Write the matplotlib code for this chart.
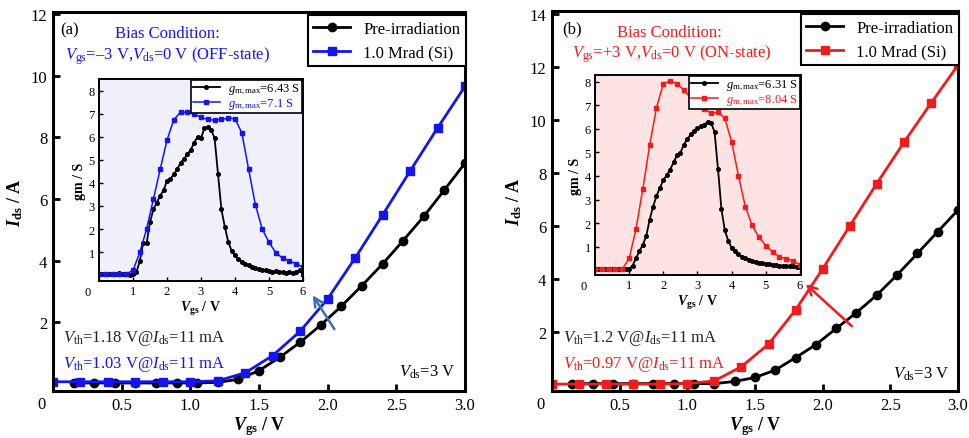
import numpy as np
import matplotlib
matplotlib.use('Agg')
from matplotlib import pyplot as plt

plt.rcParams['font.family'] = 'Liberation Serif'
plt.rcParams['mathtext.fontset'] = 'custom'
plt.rcParams['mathtext.rm'] = 'Liberation Serif'
plt.rcParams['mathtext.it'] = 'Liberation Serif:italic'
plt.rcParams['mathtext.bf'] = 'Liberation Serif:bold'
plt.rcParams['mathtext.bfit'] = 'Liberation Serif:italic:bold'

# ---- main transfer curves (Ids vs Vgs, Vds = 3 V) ----
vgs_pre = [0.15, 0.30, 0.45, 0.60, 0.75, 0.90, 1.05, 1.20, 1.35, 1.50, 1.65, 1.80,
           1.95, 2.10, 2.25, 2.40, 2.55, 2.70, 2.85, 3.00]
vgs_irr = [0.0, 0.2, 0.4, 0.6, 0.8, 1.0, 1.2, 1.4, 1.6, 1.8, 2.0, 2.2, 2.4, 2.6, 2.8, 3.0]

ids_a_pre = [0.03, 0.03, 0.03, 0.03, 0.03, 0.03, 0.03, 0.05, 0.15, 0.43, 0.86, 1.35,
             1.91, 2.52, 3.19, 3.89, 4.65, 5.43, 6.29, 7.16]
ids_a_irr = [0.07, 0.07, 0.07, 0.07, 0.07, 0.07, 0.1, 0.36, 0.92, 1.71, 2.76, 4.08,
             5.48, 6.9, 8.3, 9.65]

ids_b_pre = [0.05, 0.05, 0.05, 0.05, 0.05, 0.05, 0.05, 0.05, 0.13, 0.28, 0.56, 1.03,
             1.52, 2.13, 2.73, 3.39, 4.15, 4.96, 5.78, 6.6]
ids_b_irr = [0.03, 0.03, 0.03, 0.03, 0.03, 0.05, 0.15, 0.69, 1.54, 2.83, 4.38, 6.0,
             7.6, 9.15, 10.63, 12.07]

# ---- inset transconductance curves ----
vg_in_pre = np.round(np.arange(0, 6.01, 0.1), 2)
vg_in_irr = np.round(np.arange(0, 6.01, 0.2), 2)

gm_a_pre = [0.05, 0.04, 0.05, 0.03, 0.06, 0.04, 0.08, 0.03, 0.06, 0.02, 0.03, 0.12,
            0.6, 1.4, 1.38, 2.3, 2.85, 3.15, 3.45, 3.68, 4.1, 4.18, 4.38, 4.6, 4.88,
            5.05, 5.25, 5.45, 5.75, 6.02, 5.95, 6.38, 6.43, 6.3, 5.95, 4.4, 2.85, 2.1,
            1.45, 1.05, 0.85, 0.7, 0.58, 0.5, 0.42, 0.36, 0.3, 0.27, 0.23, 0.2, 0.18,
            0.15, 0.16, 0.13, 0.12, 0.1, 0.11, 0.08, 0.15, 0.2, 0.02]
gm_a_irr = [0.05, 0.05, 0.05, 0.03, 0.05, 0.2, 0.98, 2.0, 3.3, 4.6, 5.86, 6.75, 7.08,
            7.07, 7.0, 6.85, 6.76, 6.73, 6.76, 6.82, 6.8, 6.18, 4.6, 3.05, 2.0, 1.42,
            0.97, 0.73, 0.62, 0.48, 0.35]

gm_b_pre = [0.05, 0.07, 0.04, 0.06, 0.05, 0.07, 0.04, 0.06, 0.05, 0.04, 0.06, 0.2,
            0.5, 0.82, 1.08, 1.45, 2.15, 2.7, 3.15, 3.5, 3.82, 4.03, 4.27, 4.58, 4.88,
            4.98, 5.33, 5.55, 5.76, 5.9, 6.02, 6.1, 6.18, 6.3, 6.25, 5.86, 4.3, 2.6,
            1.7, 1.25, 0.95, 0.8, 0.67, 0.58, 0.51, 0.45, 0.39, 0.36, 0.33, 0.31, 0.28,
            0.26, 0.24, 0.22, 0.2, 0.2, 0.18, 0.19, 0.2, 0.16, 0.13]
gm_b_irr = [0.06, 0.05, 0.05, 0.04, 0.05, 0.5, 1.75, 3.45, 5.3, 6.9, 7.9, 8.04, 7.9,
            7.65, 7.3, 7.0, 6.85, 6.65, 6.7, 6.45, 5.45, 4.0, 2.7, 1.9, 1.4, 1.05,
            0.78, 0.57, 0.48, 0.4, 0.22]

BLUE = '#1414ee'
RED = '#f01c1c'
W, H = 970, 439


def px_axes(l, t, r, b):
    return [l / W, 1 - b / H, (r - l) / W, (b - t) / H]


def corner_zero(ax, size):
    # origin-style "0" sitting at the lower-left corner
    ax.annotate('0', xy=(0, 0), xycoords='axes fraction', xytext=(-11, -5),
                textcoords='offset pixels', ha='center', va='top', fontsize=size)


def main_panel(ax, ids_pre, ids_irr, col, ymax, yticks):
    ax.plot(vgs_pre, ids_pre, '-o', color='black', lw=2, ms=6, label='Pre-irradiation')
    ax.plot(vgs_irr, ids_irr, '-s', color=col, lw=2, ms=6, label='1.0 Mrad (Si)')
    ax.set_xlim(0, 3.0)
    ax.set_ylim(-0.23, ymax)
    ax.set_xticks([0, 0.5, 1.0, 1.5, 2.0, 2.5, 3.0])
    ax.set_xticklabels(['', '0.5', '1.0', '1.5', '2.0', '2.5', '3.0'])
    ax.set_yticks(yticks)
    ax.tick_params(direction='in', width=2, length=5, labelsize=12, pad=4)
    for s in ax.spines.values():
        s.set_linewidth(2.2)
    corner_zero(ax, 12)
    ax.set_xlabel(r'$\mathbfit{V}_{\mathbf{gs}}$ / V', fontsize=13, fontweight='bold', labelpad=1)
    ax.set_ylabel(r'$\mathbfit{I}_{\mathbf{ds}}$ / A', fontsize=13, fontweight='bold', labelpad=4)
    leg = ax.legend(loc='upper right', bbox_to_anchor=(1.003, 0.992), borderaxespad=0,
                    fontsize=12, numpoints=1, handlelength=2.2, fancybox=False,
                    framealpha=1, edgecolor='black', borderpad=0.35, labelspacing=0.45)
    leg.get_frame().set_linewidth(1.5)


def inset_panel(ax, gm_pre, gm_irr, col, bg, labels, xmax, ylim):
    ax.set_facecolor(bg)
    ax.plot(vg_in_pre, gm_pre, '-o', color='black', lw=1.3, ms=2.6, label=labels[0])
    ax.plot(vg_in_irr, gm_irr, '-s', color=col, lw=1.1, ms=2.4, label=labels[1])
    ax.set_xlim(0, xmax)
    ax.set_ylim(*ylim)
    ax.set_xticks([0, 1, 2, 3, 4, 5, 6])
    ax.set_xticklabels(['', '1', '2', '3', '4', '5', '6'])
    ax.set_yticks([1, 2, 3, 4, 5, 6, 7, 8])
    ax.tick_params(direction='in', width=1, length=3, labelsize=9, pad=3)
    for s in ax.spines.values():
        s.set_linewidth(1.4)
    corner_zero(ax, 9)
    ax.set_xlabel(r'$\mathbfit{V}_{\mathbf{gs}}$ / V', fontsize=10, fontweight='bold', labelpad=1)
    ax.set_ylabel('gm / S', fontsize=10, fontweight='bold', labelpad=2)
    leg = ax.legend(loc='upper right', bbox_to_anchor=(1.0, 1.0), borderaxespad=0.1,
                    fontsize=9, numpoints=1, handlelength=2.2, fancybox=False,
                    framealpha=1, edgecolor='black', borderpad=0.15, labelspacing=0.05,
                    handletextpad=0.6)
    leg.get_frame().set_linewidth(1.2)
    leg.get_texts()[1].set_color(col)


fig = plt.figure(figsize=(9.7, 4.39), dpi=100)

# ---------- (a) OFF-state ----------
ax1 = fig.add_axes(px_axes(53, 13, 465, 392))
main_panel(ax1, ids_a_pre, ids_a_irr, BLUE, 12.06, [2, 4, 6, 8, 10, 12])
ax1.text(0.017, 0.955, '(a)', transform=ax1.transAxes, fontsize=12, va='center')
ax1.text(0.277, 0.945, 'Bias Condition:', transform=ax1.transAxes, fontsize=12,
         color=BLUE, ha='center', va='center')
ax1.text(0.029, 0.887, r'$V_{\mathrm{gs}}$=–3 V,$V_{\mathrm{ds}}$=0 V (OFF-state)',
         transform=ax1.transAxes, fontsize=12, color=BLUE, va='center')
ax1.text(0.024, 0.132, r'$V_{\mathrm{th}}$=1.18 V@$I_{\mathrm{ds}}$=11 mA',
         transform=ax1.transAxes, fontsize=12, color='#222222', va='baseline')
ax1.text(0.024, 0.063, r'$V_{\mathrm{th}}$=1.03 V@$I_{\mathrm{ds}}$=11 mA',
         transform=ax1.transAxes, fontsize=12, color=BLUE, va='baseline')
ax1.text(0.976, 0.04, r'$V_{\mathrm{ds}}$=3 V', transform=ax1.transAxes, fontsize=12,
         ha='right', va='baseline')
ax1.annotate('', xy=(1.88, 2.95), xytext=(2.06, 1.70),
             arrowprops=dict(arrowstyle='->', color='#3c70b4', lw=1.8, mutation_scale=16))

in1 = fig.add_axes(px_axes(99, 80, 303, 282))
inset_panel(in1, gm_a_pre, gm_a_irr, BLUE, '#eff0f9',
            [r'$g_{\mathrm{m,max}}$=6.43 S', r'$g_{\mathrm{m,max}}$=7.1 S'], 6.0, (-0.26, 8.52))

# ---------- (b) ON-state ----------
ax2 = fig.add_axes(px_axes(552, 12, 958, 392))
main_panel(ax2, ids_b_pre, ids_b_irr, RED, 14.11, [2, 4, 6, 8, 10, 12, 14])
ax2.text(0.025, 0.955, '(b)', transform=ax2.transAxes, fontsize=12, va='center')
ax2.text(0.29, 0.945, 'Bias Condition:', transform=ax2.transAxes, fontsize=12,
         color=RED, ha='center', va='center')
ax2.text(0.049, 0.89, r'$V_{\mathrm{gs}}$=+3 V,$V_{\mathrm{ds}}$=0 V (ON-state)',
         transform=ax2.transAxes, fontsize=12, color=RED, va='center')
ax2.text(0.027, 0.132, r'$V_{\mathrm{th}}$=1.2 V@$I_{\mathrm{ds}}$=11 mA',
         transform=ax2.transAxes, fontsize=12, color='#222222', va='baseline')
ax2.text(0.027, 0.063, r'$V_{\mathrm{th}}$=0.97 V@$I_{\mathrm{ds}}$=11 mA',
         transform=ax2.transAxes, fontsize=12, color=RED, va='baseline')
ax2.text(0.979, 0.035, r'$V_{\mathrm{ds}}$=3 V', transform=ax2.transAxes, fontsize=12,
         ha='right', va='baseline')
ax2.annotate('', xy=(1.86, 3.87), xytext=(2.23, 2.15),
             arrowprops=dict(arrowstyle='->', color=RED, lw=1.8, mutation_scale=16))

in2 = fig.add_axes(px_axes(595, 76, 801, 276))
inset_panel(in2, gm_b_pre, gm_b_irr, RED, '#fde3e3',
            [r'$g_{\mathrm{m,max}}$=6.31 S', r'$g_{\mathrm{m,max}}$=8.04 S'], 6.03, (-0.2, 8.28))

fig.savefig('out.png', dpi=100)
